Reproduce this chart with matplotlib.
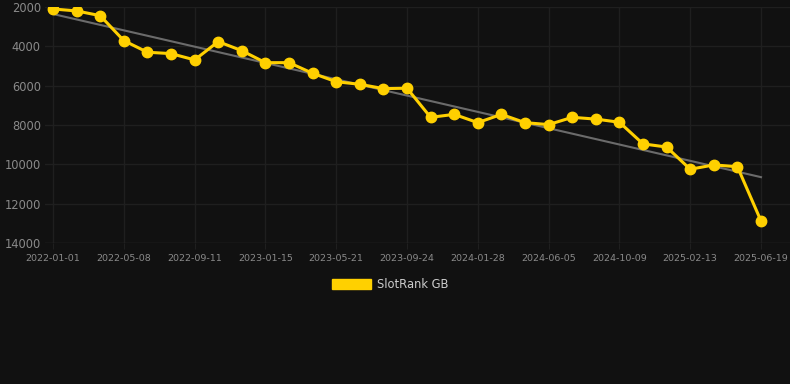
import numpy as np
import matplotlib.pyplot as plt

# SlotRank GB ranking, one point every ~6 weeks
dates = ["2022-01-01", "2022-05-08", "2022-09-11", "2023-01-15", "2023-05-21", "2023-09-24",
         "2024-01-28", "2024-06-05", "2024-10-09", "2025-02-13", "2025-06-19"]
rank = [2100, 2200, 2440, 3710, 4300, 4370, 4690, 3760, 4220, 4830, 4830,
        5370, 5800, 5930, 6150, 6130, 7610, 7460, 7880, 7460, 7880,
        7980, 7610, 7700, 7860, 8960, 9120, 10250, 10030, 10120, 12880]
y_ticks = [2000, 4000, 6000, 8000, 10000, 12000, 14000]

bg = "#111111"
yellow = "#FFD000"
txt = "#8a8a8a"
grid_c = "#1f1f1f"

x = np.arange(len(rank))
tick_pos = x[::3]

# linear trend over the series
k, b = np.polyfit(x, rank, 1)
trend = k * x + b

fig = plt.figure(figsize=(7.9, 3.84), dpi=100, facecolor=bg)
ax = fig.add_axes([45 / 790, 1 - 243 / 384, 745 / 790, 236 / 384])
ax.set_facecolor(bg)

ax.plot(x, trend, color="#6b6b6b", lw=1.5, zorder=2)
ax.plot(x, rank, color=yellow, lw=2.2, marker="o", ms=7.5, zorder=3, label="SlotRank GB")

ax.set_ylim(14000, 2000)
ax.set_xlim(-8 / 23.6, 30 + 29 / 23.6)
ax.set_yticks(y_ticks)
ax.set_yticklabels([str(v) for v in y_ticks])
ax.set_xticks(tick_pos)
ax.set_xticklabels(dates)

ax.grid(True, color=grid_c, lw=1.0)
ax.set_axisbelow(True)
for s in ax.spines.values():
    s.set_visible(False)
ax.axhline(14000, color="#262626", lw=1.0, zorder=1)
ax.tick_params(axis="y", length=0, pad=3, labelsize=8.3, labelcolor=txt)
ax.tick_params(axis="x", length=4, color=grid_c, pad=4, labelsize=6.8, labelcolor=txt)

leg = fig.legend(handles=[plt.Rectangle((0, 0), 1, 1, color=yellow)], labels=["SlotRank GB"],
                 loc="center", bbox_to_anchor=(390 / 790, 1 - 284 / 384), frameon=False,
                 handlelength=3.4, handleheight=0.95, fontsize=8.3, labelcolor="#cccccc",
                 handletextpad=0.5)

fig.savefig("out.png", dpi=100, facecolor=bg)
